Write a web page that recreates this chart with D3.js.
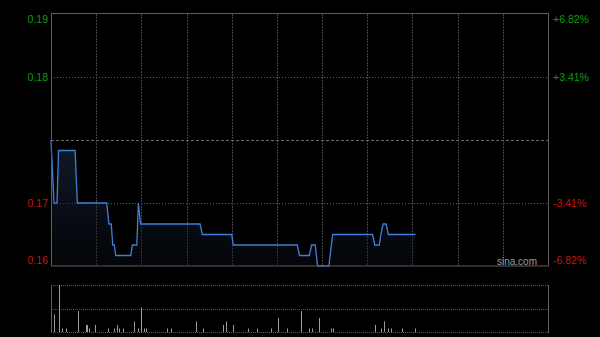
<!DOCTYPE html>
<html>
  <head>
    <meta charset="UTF-8">
    <title>intraday</title>
    <script src="https://d3js.org/d3.v7.min.js"></script>
    <style>
      body { margin: 0; background: #000; }
      svg { display: block; font-family: "Liberation Sans", Arial, sans-serif; }
    </style>
  </head>

  <body>
    <div class="chart"></div>

    <script type="application/javascript">
      // minutes since 9:30 (HK session: 150 min morning + 180 min afternoon = 330)
      const prevClose = 0.176;
      const priceMinutes = [0, 2, 4, 5, 16, 17.5, 37, 38.5, 40, 41, 42, 43, 53, 54, 57, 58, 59.5, 99, 100.5, 120, 121, 163.5, 165, 171.5, 173, 175.5, 177, 184.5, 187, 213.5, 215, 218, 219, 220.5, 222.5, 224, 242];
      const prices =       [0.176, 0.170, 0.170, 0.175, 0.175, 0.170, 0.170, 0.168, 0.168, 0.166, 0.166, 0.165, 0.165, 0.166, 0.166, 0.170, 0.168, 0.168, 0.167, 0.167, 0.166, 0.166, 0.165, 0.165, 0.166, 0.166, 0.164, 0.164, 0.167, 0.167, 0.166, 0.166, 0.167, 0.168, 0.168, 0.167, 0.167];
      const volMinutes = [2, 5, 7, 10, 18, 23, 24, 25, 29, 38, 42, 44, 45, 48, 55, 58, 60, 62, 63, 77, 80, 96, 101, 114, 116, 121, 131, 137, 146, 151, 157, 166, 171, 173, 178, 186, 187, 215, 219, 221, 224, 226, 233, 242];
      const volumes =    [50, 134, 10, 10, 60, 20, 20, 10, 20, 10, 10, 20, 10, 10, 30, 10, 70, 10, 10, 10, 10, 30, 10, 20, 30, 20, 10, 10, 10, 40, 10, 60, 10, 10, 40, 10, 10, 20, 10, 30, 10, 10, 10, 10];
      const priceTicks = [0.188, 0.182, 0.170, 0.164];
      const leftLabels = ["0.19", "0.18", "0.17", "0.16"];
      const rightLabels = ["+6.82%", "+3.41%", "-3.41%", "-6.82%"];
      const gridMinutes = d3.range(30, 330, 30);

      const W = 600, H = 337;
      const L = 51, R = 548, T = 14, B = 266;
      const vT = 285, vB = 332;
      const green = "#0c9c0c", red = "#c81414", gridCol = "#444", borderCol = "#5e5e5e";

      const svg = d3.select(".chart").append("svg").attr("width", W).attr("height", H);
      svg.append("rect").attr("width", W).attr("height", H).attr("fill", "#000");

      const x = d3.scaleLinear().domain([0, 330]).range([L, R]);
      const y = d3.scaleLinear().domain([0.164, 0.188]).range([B, T]);
      const yv = d3.scaleLinear().domain([0, d3.max(volumes)]).range([vB, vT]);

      const pts = priceMinutes.map((m, i) => [m, prices[i]]);

      // area gradient
      const grad = svg.append("defs").append("linearGradient")
        .attr("id", "fillGrad").attr("x1", 0).attr("y1", 0).attr("x2", 0).attr("y2", 1);
      grad.append("stop").attr("offset", "0%").attr("stop-color", "#1c2c4c").attr("stop-opacity", 0.6);
      grad.append("stop").attr("offset", "100%").attr("stop-color", "#0a0f1a").attr("stop-opacity", 0.35);

      const g = svg.append("g");

      // vertical grid
      g.selectAll(".vg").data(gridMinutes).join("line")
        .attr("x1", d => Math.round(x(d)) + 0.5).attr("x2", d => Math.round(x(d)) + 0.5)
        .attr("y1", T).attr("y2", B)
        .attr("stroke", gridCol).attr("stroke-dasharray", "2,1");

      // horizontal grid
      g.selectAll(".hg").data([0.182, 0.170]).join("line")
        .attr("x1", L).attr("x2", R)
        .attr("y1", d => Math.round(y(d)) + 0.5).attr("y2", d => Math.round(y(d)) + 0.5)
        .attr("stroke", "#5a5a5a").attr("stroke-dasharray", "1,2");
      g.append("line")
        .attr("x1", L).attr("x2", R)
        .attr("y1", Math.round(y(prevClose)) + 0.5).attr("y2", Math.round(y(prevClose)) + 0.5)
        .attr("stroke", "#6a6a6a").attr("stroke-dasharray", "3,2");

      // area + line
      g.append("path").datum(pts)
        .attr("d", d3.area().x(d => x(d[0])).y0(B).y1(d => y(d[1])))
        .attr("fill", "url(#fillGrad)");
      g.append("path").datum(pts)
        .attr("d", d3.line().x(d => x(d[0])).y(d => y(d[1])))
        .attr("fill", "none").attr("stroke", "#3f7fd8").attr("stroke-width", 1.3);

      // border
      g.append("rect").attr("x", L + 0.5).attr("y", T - 0.5).attr("width", R - L).attr("height", B - T + 0.5)
        .attr("fill", "none").attr("stroke", borderCol);

      // labels
      const labOff = [5, 0, 0, -6];
      svg.selectAll(".ll").data(priceTicks).join("text")
        .attr("x", 48).attr("y", (d, i) => y(d) + labOff[i]).attr("dy", "0.35em")
        .attr("text-anchor", "end").attr("font-size", 10.5)
        .attr("fill", d => d > prevClose ? green : red)
        .text((d, i) => leftLabels[i]);
      svg.selectAll(".rl").data(priceTicks).join("text")
        .attr("x", 553).attr("y", (d, i) => y(d) + labOff[i]).attr("dy", "0.35em")
        .attr("text-anchor", "start").attr("font-size", 10.5)
        .attr("fill", d => d > prevClose ? green : red)
        .text((d, i) => rightLabels[i]);

      svg.append("text").attr("x", 537).attr("y", 265)
        .attr("text-anchor", "end").attr("font-size", 10).attr("fill", "#9a9a9a")
        .text("sina.com");

      // volume panel
      const v = svg.append("g");
      v.selectAll(".vh").data([vT, (vT + vB) / 2, vB]).join("line")
        .attr("x1", L).attr("x2", R)
        .attr("y1", d => Math.round(d) + 0.5).attr("y2", d => Math.round(d) + 0.5)
        .attr("stroke", "#555").attr("stroke-dasharray", "1,1");
      v.selectAll(".vs").data([L, R]).join("line")
        .attr("x1", d => d + 0.5).attr("x2", d => d + 0.5)
        .attr("y1", vT).attr("y2", vB + 1)
        .attr("stroke", borderCol);
      v.selectAll(".vb").data(volMinutes).join("line")
        .attr("x1", d => Math.round(x(d)) + 0.5).attr("x2", d => Math.round(x(d)) + 0.5)
        .attr("y1", vB).attr("y2", (d, i) => yv(volumes[i]))
        .attr("stroke", "#9a9a9a");
    </script>
  </body>

</html>
